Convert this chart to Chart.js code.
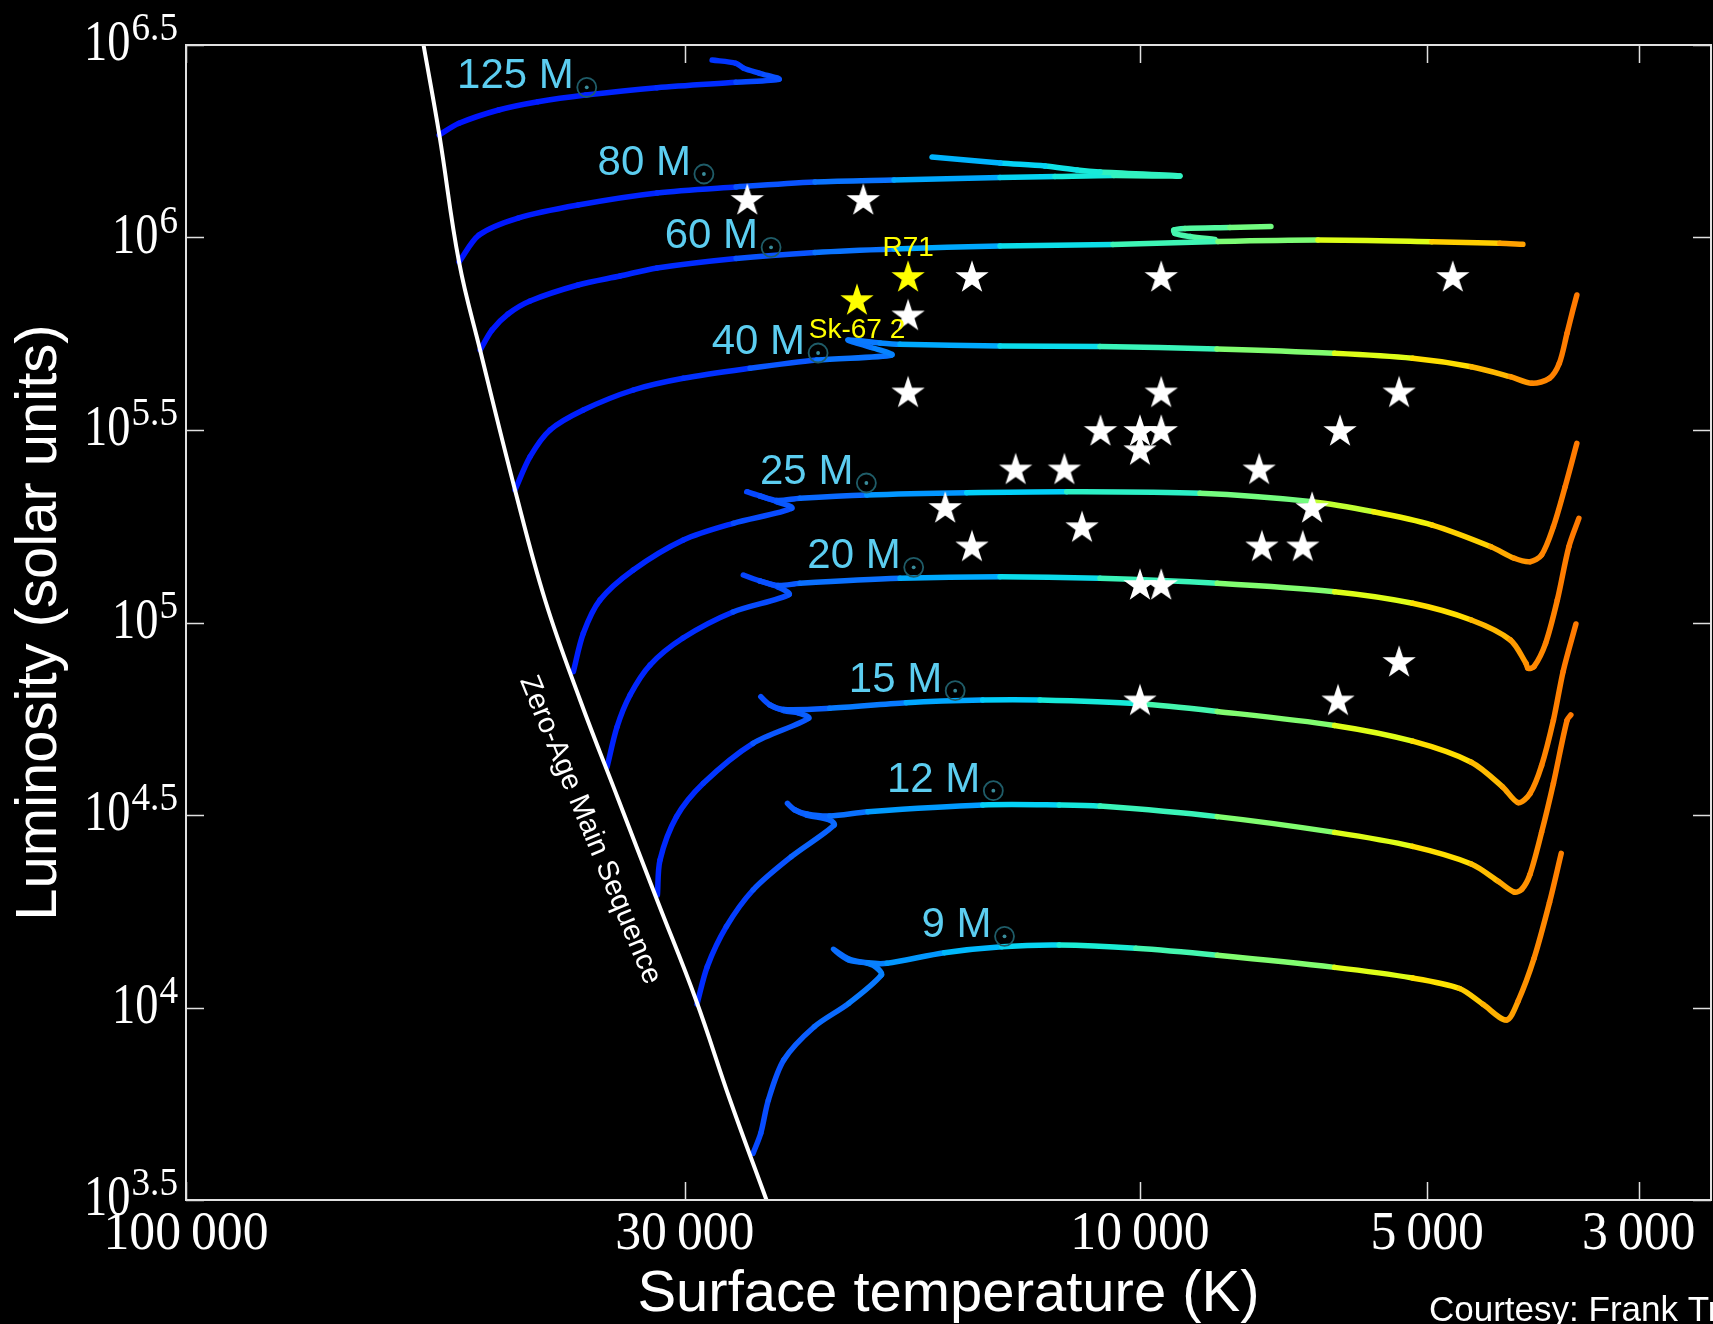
<!DOCTYPE html>
<html>
<head>
<meta charset="utf-8">
<script src="https://cdn.jsdelivr.net/npm/chart.js@4.4.1/dist/chart.umd.min.js"></script>
<style>
html,body{margin:0;padding:0;background:#000;overflow:hidden;}
canvas{display:block;}
</style>
</head>
<body>
<canvas id="hrd" width="1713" height="1324"></canvas>
<script>
// ---------------- DATA ----------------
// Evolutionary tracks: [log10 Teff (K), log10 L (L_sun)]
const track125 = [[4.7347,6.2662],[4.7138,6.2966],[4.6723,6.3312],[4.6310,6.3527],[4.5811,6.3701],[4.5064,6.3891],[4.4235,6.4031],[4.3783,6.4109],[4.3987,6.4265],[4.4153,6.4395],[4.4235,6.4525],[4.4485,6.4610]];
const track80 = [[4.7138,5.9364],[4.6928,6.0065],[4.6519,6.0506],[4.5890,6.0844],[4.5062,6.1156],[4.4234,6.1312],[4.3406,6.1442],[4.2578,6.1494],[4.1467,6.1558],[4.0891,6.1584],[4.0273,6.1610],[3.9581,6.1597],[4.0419,6.1701],[4.0660,6.1753],[4.0996,6.1857],[4.1467,6.1935],[4.2180,6.2091]];
const track60 = [[4.6917,5.7078],[4.6792,5.7597],[4.6624,5.8013],[4.6393,5.8351],[4.5890,5.8766],[4.5450,5.9000],[4.5062,5.9208],[4.4234,5.9455],[4.3406,5.9610],[4.2578,5.9701],[4.1467,5.9779],[4.0283,5.9818],[3.9182,5.9896],[3.8134,5.9935],[3.6940,5.9891],[3.6227,5.9849],[3.5986,5.9823]];
const loop60 = [[3.9214,5.9948],[3.9476,6.0026],[3.9633,6.0104],[3.9644,6.0195],[3.9528,6.0234],[3.9057,6.0260],[3.8627,6.0286]];
const track40 = [[4.6551,5.3442],[4.6393,5.4306],[4.6184,5.5000],[4.5835,5.5519],[4.5311,5.6039],[4.4787,5.6343],[4.4088,5.6603],[4.3388,5.6818],[4.2602,5.6948],[4.2830,5.7156],[4.3060,5.7338],[4.2725,5.7260],[4.2515,5.7226],[4.1467,5.7182],[4.0419,5.7169],[3.9193,5.7104],[3.7960,5.6992],[3.7142,5.6862],[3.6527,5.6644],[3.6117,5.6384],[3.5891,5.6213],[3.5707,5.6343],[3.5604,5.6732],[3.5523,5.7512],[3.5462,5.8117],[3.5420,5.8506]];
const track25 = [[4.5940,4.8722],[4.5835,4.9719],[4.5660,5.0584],[4.5311,5.1364],[4.4787,5.2143],[4.4263,5.2577],[4.3651,5.2966],[4.3808,5.3138],[4.3983,5.3286],[4.4122,5.3397],[4.3983,5.3286],[4.3808,5.3169],[4.3564,5.3226],[4.2864,5.3312],[4.1816,5.3371],[4.0768,5.3397],[3.9371,5.3356],[3.8194,5.3138],[3.7551,5.2878],[3.6936,5.2532],[3.6321,5.1969],[3.6076,5.1668],[3.5912,5.1579],[3.5790,5.1753],[3.5666,5.2488],[3.5543,5.3527],[3.5420,5.4654]];
const track20 = [[4.5586,4.6247],[4.5482,4.7286],[4.5345,4.8117],[4.5136,4.8896],[4.4790,4.9597],[4.4266,5.0273],[4.3679,5.0727],[4.3794,5.0922],[4.3983,5.1078],[4.4158,5.1234],[4.3983,5.1078],[4.3794,5.0961],[4.3564,5.1018],[4.2515,5.1148],[4.1467,5.1190],[4.0419,5.1148],[3.9190,5.1018],[3.7960,5.0800],[3.7142,5.0499],[3.6527,5.0065],[3.6117,4.9545],[3.5954,4.8940],[3.5933,4.8810],[3.5870,4.8852],[3.5748,4.9460],[3.5625,5.0584],[3.5504,5.1969],[3.5399,5.2706]];
const track15 = [[4.5058,4.2922],[4.5031,4.3831],[4.4858,4.4956],[4.4577,4.5823],[4.4056,4.6862],[4.3473,4.7512],[4.3574,4.7649],[4.3734,4.7714],[4.3878,4.7857],[4.3975,4.8073],[4.3878,4.7857],[4.3734,4.7740],[4.3253,4.7771],[4.2450,4.7917],[4.1649,4.7987],[4.1048,4.7987],[4.0004,4.7888],[3.9190,4.7691],[3.7960,4.7327],[3.7142,4.6917],[3.6527,4.6371],[3.6199,4.5732],[3.6035,4.5322],[3.5912,4.5551],[3.5790,4.6281],[3.5666,4.7462],[3.5563,4.8740],[3.5430,4.9961]];
const track12 = [[4.4643,4.0091],[4.4536,4.1060],[4.4336,4.2099],[4.4056,4.3052],[4.3655,4.3917],[4.3205,4.4740],[4.3253,4.4870],[4.3493,4.5000],[4.3616,4.5130],[4.3695,4.5304],[4.3616,4.5130],[4.3493,4.5026],[4.3253,4.4974],[4.2852,4.5086],[4.1649,4.5260],[4.0847,4.5260],[4.0419,4.5231],[3.9190,4.4958],[3.7960,4.4548],[3.7142,4.4184],[3.6527,4.3727],[3.6241,4.3273],[3.6076,4.2999],[3.5996,4.3075],[3.5912,4.3455],[3.5790,4.4548],[3.5666,4.5823],[3.5523,4.7462],[3.5483,4.7600]];
const track9 = [[4.4055,3.6213],[4.3975,3.6732],[4.3895,3.7597],[4.3734,3.8636],[4.3414,3.9501],[4.3052,4.0109],[4.2711,4.0844],[4.2751,4.1018],[4.2852,4.1148],[4.3052,4.1234],[4.3214,4.1512],[4.3052,4.1260],[4.2852,4.1160],[4.2652,4.1148],[4.2050,4.1423],[4.1448,4.1579],[4.0847,4.1623],[4.0044,4.1538],[3.9190,4.1358],[3.7960,4.1042],[3.7142,4.0766],[3.6650,4.0494],[3.6404,4.0083],[3.6158,3.9675],[3.6035,4.0174],[3.5870,4.1268],[3.5707,4.2727],[3.5584,4.4003]];
const zams = [[4.7510,6.5000],[4.7344,6.2662],[4.7138,5.9364],[4.6917,5.7078],[4.6551,5.3442],[4.6236,5.0584],[4.5869,4.7987],[4.5466,4.5390],[4.5062,4.2792],[4.4654,4.0195],[4.4297,3.7597],[4.3915,3.5000]];

// Track labels (initial masses, solar units) and their anchor points [log Teff, log L]
const trackMasses = ['125', '80', '60', '40', '25', '20', '15', '12', '9'];
const labelLogT = [4.7159, 4.5686, 4.4982, 4.4489, 4.3983, 4.3487, 4.3052, 4.2652, 4.2290];
const labelLogL = [6.3875, 6.1623, 5.9719, 5.6974, 5.3597, 5.1408, 4.8203, 4.5605, 4.1823];

// Observed stars: Teff (K), log L
const starTeff = [25800, 19500, 15000, 9500, 4700, 17500, 17500, 9500, 5350, 11000, 10000, 9500, 10000, 6170, 13500, 12000, 7500, 16000, 6600, 11500, 15000, 7450, 6750, 10000, 9500, 5350, 10000, 6200];
const starLogL = [6.10, 6.10, 5.90, 5.90, 5.90, 5.80, 5.60, 5.60, 5.60, 5.50, 5.50, 5.50, 5.45, 5.50, 5.40, 5.40, 5.40, 5.30, 5.30, 5.25, 5.20, 5.20, 5.20, 5.10, 5.10, 4.90, 4.80, 4.80];
const namedStars = ['R71', 'Sk-67 2'];
const namedTeff = [17500, 19800];
const namedLogL = [5.90, 5.84];

// Axis ticks
const xTickValues = [100000, 30000, 10000, 5000, 3000];
const xTickLabels = ['100 000', '30 000', '10 000', '5 000', '3 000'];
const yTickExps = ['3.5', '4', '4.5', '5', '5.5', '6', '6.5'];
const xTitle = 'Surface temperature (K)';
const yTitle = 'Luminosity (solar units)';
const zamsLabel = 'Zero-Age Main Sequence';
const zamsLabelAt = [4.5765, 4.4610];
const credit = 'Courtesy: Frank Tramper';

// ---------------- STYLE HELPERS ----------------
const CMAP = [
  [4.75, [0, 16, 255]],
  [4.45, [0, 45, 255]],
  [4.38, [10, 85, 255]],
  [4.30, [10, 115, 255]],
  [4.22, [0, 160, 255]],
  [4.14, [0, 205, 252]],
  [4.05, [25, 236, 215]],
  [3.93, [85, 250, 160]],
  [3.83, [150, 255, 90]],
  [3.76, [220, 255, 25]],
  [3.70, [255, 232, 0]],
  [3.65, [255, 200, 0]],
  [3.615, [255, 165, 0]],
  [3.59, [255, 140, 0]],
  [3.55, [255, 122, 0]]
];
function cmap(lt) {
  if (lt >= CMAP[0][0]) return 'rgb(' + CMAP[0][1].join(',') + ')';
  for (let i = 1; i < CMAP.length; i++) {
    if (lt >= CMAP[i][0]) {
      const t = (CMAP[i - 1][0] - lt) / (CMAP[i - 1][0] - CMAP[i][0]);
      const a = CMAP[i - 1][1], b = CMAP[i][1];
      return 'rgb(' + [0, 1, 2].map(k => Math.round(a[k] + (b[k] - a[k]) * t)).join(',') + ')';
    }
  }
  return 'rgb(' + CMAP[CMAP.length - 1][1].join(',') + ')';
}
const toXY = arr => arr.map(([lt, ll]) => ({x: Math.pow(10, lt), y: Math.pow(10, ll)}));

function makeStar(color) {
  const c = document.createElement('canvas');
  c.width = 42; c.height = 42;
  const g = c.getContext('2d');
  const R = 17.5, r = R * 0.382, cx = 21, cy = 22.7;
  g.beginPath();
  for (let i = 0; i < 10; i++) {
    const ang = -Math.PI / 2 + i * Math.PI / 5;
    const rr = i % 2 === 0 ? R : r;
    const px = cx + rr * Math.cos(ang), py = cy + rr * Math.sin(ang);
    if (i === 0) g.moveTo(px, py); else g.lineTo(px, py);
  }
  g.closePath();
  g.fillStyle = color;
  g.fill();
  return c;
}
const whiteStar = makeStar('#ffffff');
const yellowStar = makeStar('#ffff00');

function trackDataset(label, arr) {
  return {
    label: label,
    data: toXY(arr),
    showLine: true,
    pointRadius: 0,
    borderWidth: 5.5,
    tension: 0.3,
    borderCapStyle: 'round',
    borderJoinStyle: 'round',
    borderColor: '#0030ff',
    segment: {
      borderColor: ctx => cmap(Math.log10((ctx.p0.parsed.x + ctx.p1.parsed.x) / 2))
    },
    order: 2,
    clip: 0
  };
}

const trackArrays = [track125, track80, track60, track40, track25, track20, track15, track12, track9];
const datasets = [];
datasets.push({
  label: 'Stars',
  data: starTeff.map((t, i) => ({x: t, y: Math.pow(10, starLogL[i])})),
  pointStyle: whiteStar, pointRadius: 10, showLine: false, order: 0
});
datasets.push({
  label: 'Named stars',
  data: namedTeff.map((t, i) => ({x: t, y: Math.pow(10, namedLogL[i])})),
  pointStyle: yellowStar, pointRadius: 10, showLine: false, order: 0
});
datasets.push({
  label: zamsLabel, data: toXY(zams), showLine: true, pointRadius: 0, tension: 0.4,
  borderColor: '#ffffff', borderWidth: 4, order: 1, clip: 0
});
trackArrays.forEach((arr, i) => datasets.push(trackDataset(trackMasses[i] + ' Msun', arr)));
datasets.push(trackDataset('60 Msun loop', loop60));

// ---------------- DRAWING HELPERS ----------------
function scaledText(ctx, txt, x, y, sx, align) {
  const w = ctx.measureText(txt).width * sx;
  const left = align === 'center' ? x - w / 2 : (align === 'right' ? x - w : x);
  ctx.save();
  ctx.translate(left, y);
  ctx.scale(sx, 1);
  ctx.textAlign = 'left';
  ctx.fillText(txt, 0, 0);
  ctx.restore();
  return w;
}

const overlay = {
  id: 'overlay',
  afterDatasetsDraw(chart) {
    const {ctx, scales: {x: xs, y: ys}} = chart;
    ctx.save();
    ctx.textBaseline = 'alphabetic';
    trackMasses.forEach((m, i) => {
      const px = xs.getPixelForValue(Math.pow(10, labelLogT[i]));
      const py = ys.getPixelForValue(Math.pow(10, labelLogL[i]));
      ctx.font = '42px "Liberation Sans", Arial, sans-serif';
      ctx.fillStyle = '#5ccdf0';
      ctx.textAlign = 'left';
      const txt = m + ' M';
      ctx.fillText(txt, px, py);
      const w = ctx.measureText(txt).width;
      const cx = px + w + 13, cy = py - 1;
      ctx.strokeStyle = '#1f5c68';
      ctx.lineWidth = 1.8;
      ctx.beginPath(); ctx.arc(cx, cy, 9.5, 0, Math.PI * 2); ctx.stroke();
      ctx.fillStyle = '#3a8c9a';
      ctx.beginPath(); ctx.arc(cx, cy, 1.9, 0, Math.PI * 2); ctx.fill();
    });
    ctx.font = '28px "Liberation Sans", Arial, sans-serif';
    ctx.fillStyle = '#ffff00';
    ctx.textAlign = 'center';
    namedStars.forEach((n, i) => {
      const px = xs.getPixelForValue(namedTeff[i]);
      const py = ys.getPixelForValue(Math.pow(10, namedLogL[i]));
      if (i === 0) ctx.fillText(n, px, py - 20);
      else ctx.fillText(n, px, py + 39);
    });
    const zx = xs.getPixelForValue(Math.pow(10, zamsLabelAt[0]));
    const zy = ys.getPixelForValue(Math.pow(10, zamsLabelAt[1]));
    ctx.translate(zx, zy);
    ctx.rotate(67.6 * Math.PI / 180);
    ctx.font = '29px "Liberation Sans", Arial, sans-serif';
    ctx.fillStyle = '#ffffff';
    ctx.textAlign = 'center';
    ctx.textBaseline = 'middle';
    ctx.fillText(zamsLabel, 0, 0);
    ctx.restore();
  },
  afterDraw(chart) {
    const {ctx, chartArea: a, scales: {x: xs, y: ys}} = chart;
    ctx.save();
    ctx.strokeStyle = '#e0e0e0';
    ctx.lineWidth = 2;
    ctx.strokeRect(a.left, a.top, a.right - a.left, a.bottom - a.top);
    ctx.lineWidth = 1.5;
    ctx.beginPath();
    xTickValues.forEach(v => {
      const px = Math.round(xs.getPixelForValue(v)) + 0.5;
      ctx.moveTo(px, a.bottom); ctx.lineTo(px, a.bottom - 18);
      ctx.moveTo(px, a.top); ctx.lineTo(px, a.top + 18);
    });
    yTickExps.forEach(e => {
      const py = Math.round(ys.getPixelForValue(Math.pow(10, parseFloat(e)))) + 0.5;
      ctx.moveTo(a.left, py); ctx.lineTo(a.left + 18, py);
      ctx.moveTo(a.right, py); ctx.lineTo(a.right - 18, py);
    });
    ctx.stroke();
    ctx.fillStyle = '#ffffff';
    ctx.textBaseline = 'alphabetic';
    xTickValues.forEach((v, i) => {
      const px = xs.getPixelForValue(v);
      ctx.font = '55px "Liberation Serif", "DejaVu Serif", serif';
      const parts = xTickLabels[i].split(' ');
      const sx = 0.94, gap = 10;
      const widths = parts.map(p => ctx.measureText(p).width * sx);
      const total = widths.reduce((s, w) => s + w, 0) + gap * (parts.length - 1);
      let left = px - total / 2;
      parts.forEach((p, k) => { scaledText(ctx, p, left, a.bottom + 49, sx, 'left'); left += widths[k] + gap; });
    });
    yTickExps.forEach(e => {
      const py = ys.getPixelForValue(Math.pow(10, parseFloat(e)));
      const xr = a.left - 8;
      ctx.font = '40px "Liberation Serif", "DejaVu Serif", serif';
      const we = ctx.measureText(e).width * 0.93;
      scaledText(ctx, e, xr - we, py - 5, 0.93, 'left');
      ctx.font = '58px "Liberation Serif", "DejaVu Serif", serif';
      scaledText(ctx, '10', xr - we - 1, py + 15, 0.8, 'right');
    });
    ctx.font = '58px "Liberation Sans", Arial, sans-serif';
    ctx.textAlign = 'center';
    ctx.textBaseline = 'alphabetic';
    ctx.fillText(xTitle, (a.left + a.right) / 2, 1311);
    ctx.save();
    ctx.translate(56, (a.top + a.bottom) / 2);
    ctx.rotate(-Math.PI / 2);
    ctx.fillText(yTitle, 0, 0);
    ctx.restore();
    ctx.font = '35px "Liberation Sans", Arial, sans-serif';
    ctx.textAlign = 'left';
    ctx.fillText(credit, 1429, 1321);
    ctx.restore();
  }
};

new Chart(document.getElementById('hrd'), {
  type: 'scatter',
  data: {datasets: datasets},
  options: {
    responsive: false,
    animation: false,
    devicePixelRatio: 1,
    layout: {autoPadding: false, padding: {left: 186, top: 45, right: 2, bottom: 124}},
    scales: {
      x: {type: 'logarithmic', reverse: true, min: 2520, max: 100000, display: false},
      y: {type: 'logarithmic', min: Math.pow(10, 3.5), max: Math.pow(10, 6.5), display: false}
    },
    plugins: {legend: {display: false}, tooltip: {enabled: false}},
    events: []
  },
  plugins: [overlay]
});
</script>
</body>
</html>
